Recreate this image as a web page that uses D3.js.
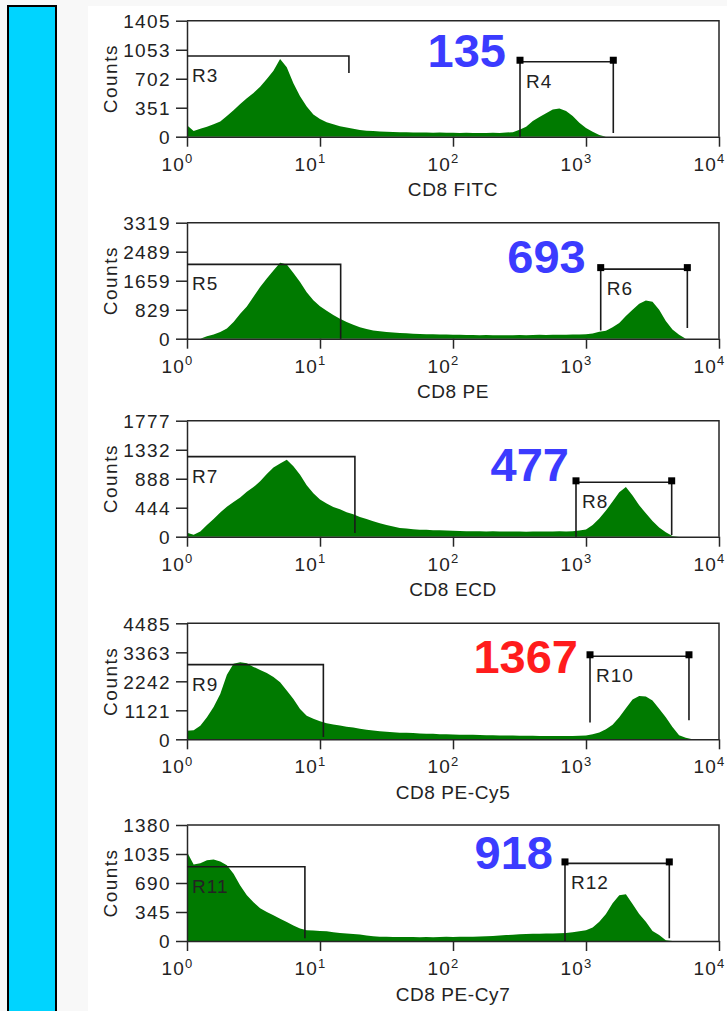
<!DOCTYPE html>
<html>
<head>
<meta charset="utf-8">
<script src="https://cdn.jsdelivr.net/npm/d3@7"></script>
<style>
  html, body { margin: 0; padding: 0; background: #f8f8f8; }
  svg { display: block; }
  text { font-family: "Liberation Sans", Arial, sans-serif; fill: #222; }
</style>
</head>
<body>
<svg id="chart" width="727" height="1011"></svg>
<script>
// ---- Data ---------------------------------------------------------------
const channels = ["CD8 FITC", "CD8 PE", "CD8 ECD", "CD8 PE-Cy5", "CD8 PE-Cy7"];
const countMax = [1405, 3319, 1777, 4485, 1380];
const countTickLabels = [
  [0, 351, 702, 1053, 1405],
  [0, 829, 1659, 2489, 3319],
  [0, 444, 888, 1332, 1777],
  [0, 1121, 2242, 3363, 4485],
  [0, 345, 690, 1035, 1380]
];
const decadeTicks = [1, 10, 100, 1000, 10000];

// histogram bins, 1/20 decade apart starting at 10^0
const binDecades = d3.range(0, 81).map(i => i / 20);

const fitcCounts = [140, 70, 95, 120, 150, 185, 250, 320, 395, 465, 530, 605, 700, 800, 940, 840,
  646, 490, 365, 270, 215, 175, 150, 128, 112, 95, 80, 72, 68, 62, 60, 58, 55, 55, 52, 50, 50, 48,
  50, 47, 48, 45, 47, 44, 46, 45, 48, 46, 50, 55, 85, 121, 190, 240, 285, 330, 343, 310, 250, 170,
  105, 60, 20, 0];
const peCounts = [0, 0, 0, 70, 120, 190, 290, 480, 717, 920, 1200, 1480, 1720, 1950, 2170, 2120,
  1880, 1624, 1330, 1100, 930, 800, 680, 570, 480, 400, 330, 280, 238, 210, 195, 180, 165, 155, 145,
  135, 130, 125, 120, 118, 112, 110, 108, 105, 100, 105, 100, 98, 102, 100, 105, 100, 108, 110, 105,
  110, 115, 112, 118, 120, 130, 150, 200, 230, 330, 450, 650, 830, 1000, 1090, 1060, 830, 510, 260,
  110, 0];
const ecdCounts = [60, 30, 80, 180, 270, 370, 460, 530, 600, 690, 760, 850, 960, 1060, 1120, 1180,
  1080, 950, 790, 664, 570, 510, 455, 420, 375, 345, 300, 270, 235, 205, 180, 155, 135, 125, 115,
  108, 105, 100, 100, 95, 92, 88, 85, 82, 85, 80, 82, 78, 80, 78, 80, 76, 78, 80, 78, 80, 82, 80, 82,
  95, 110, 180, 280, 400, 540, 680, 760, 630, 480, 360, 240, 140, 70, 10, 0];
const cy5Counts = [330, 350, 520, 850, 1250, 1750, 2500, 2925, 2980, 2940, 2800, 2680, 2560, 2404,
  2207, 1885, 1560, 1170, 910, 790, 700, 620, 570, 530, 490, 455, 410, 370, 340, 310, 290, 270, 257,
  250, 240, 225, 215, 210, 200, 195, 190, 180, 175, 172, 165, 160, 155, 150, 148, 150, 140, 135, 138,
  130, 132, 128, 130, 128, 130, 135, 150, 200, 260, 390, 560, 850, 1200, 1540, 1670, 1650, 1500,
  1180, 850, 480, 160, 60, 0];
const cy7Counts = [1060, 910, 925, 960, 970, 945, 900, 800, 660, 545, 460, 390, 346, 305, 265, 227,
  185, 150, 128, 125, 120, 115, 105, 95, 90, 82, 78, 65, 56, 52, 50, 48, 48, 48, 47, 46, 48, 46, 47,
  50, 48, 50, 52, 50, 55, 58, 60, 65, 70, 75, 80, 82, 85, 85, 88, 90, 92, 95, 105, 115, 128, 160,
  230, 320, 450, 545, 555, 440, 320, 230, 120, 70, 10, 0];
const histograms = [fitcCounts, peCounts, ecdCounts, cy5Counts, cy7Counts];

// gates: a low-intensity region (from 10^0) and a bright region
const lowGateNames = ["R3", "R5", "R7", "R9", "R11"];
const lowGateEnd = [16.5, 14.3, 18.3, 10.6, 7.7];
const lowGateLevel = [977, 2126, 1226, 2886, 883];
const lowGateFoot = [771, 0, 57, 90, 32];

const brightGateNames = ["R4", "R6", "R8", "R10", "R12"];
const brightGateStart = [319, 1290, 841, 1072, 695];
const brightGateEnd = [1604, 5780, 4408, 5946, 4230];
const brightGateLevel = [908, 1991, 833, 3210, 923];
const brightGateFootStart = [0, 238, 0, 647, 0];
const brightGateFootEnd = [45, 305, 26, 741, 32];

const brightEvents = [135, 693, 477, 1367, 918];
const flagged = [false, false, false, true, false];

// ---- Layout -------------------------------------------------------------
const W = 727, H = 1011;
const plotLeft = 187, plotRight = 719, plotHeight = 116;
const panelTop = [20.7, 222.7, 420.7, 623.3, 825];
const calloutDx = [-14, -15, -7, -12, -12];
const calloutDy = [5, 4, -1, 17, 6];

const svg = d3.select("#chart");

// page furniture
svg.append("rect").attr("x", 0).attr("y", 0).attr("width", W).attr("height", H).attr("fill", "#f8f8f8");
svg.append("rect").attr("x", 88).attr("y", 6).attr("width", W - 88).attr("height", H - 6).attr("fill", "#ffffff");
svg.append("rect").attr("x", 8).attr("y", 6).attr("width", 48).attr("height", H + 20)
  .attr("fill", "#00d4ff").attr("stroke", "#000").attr("stroke-width", 2);

const x = d3.scaleLog().domain([1, 1e4]).range([plotLeft, plotRight]);
const lineColor = "#262626";
const gateColor = "#1a1a1a";

channels.forEach((name, i) => {
  const top = panelTop[i];
  const base = top + plotHeight;
  const y = d3.scaleLinear().domain([0, countMax[i]]).range([base, top]);
  const g = svg.append("g");

  // histogram
  const area = d3.area()
    .x((c, j) => x(Math.pow(10, binDecades[j])))
    .y0(y(0))
    .y1(c => y(c));
  g.append("path").datum(histograms[i]).attr("d", area).attr("fill", "#007a00");

  // frame (top and right edges)
  g.append("path")
    .attr("d", `M${plotLeft},${top}H${plotRight}V${base}`)
    .attr("fill", "none").attr("stroke", lineColor).attr("stroke-width", 1.5);

  // count axis
  const yAxis = g.append("g").attr("transform", `translate(${plotLeft},0)`)
    .call(d3.axisLeft(y).tickValues(countTickLabels[i]).tickSize(11).tickSizeOuter(0)
      .tickPadding(5).tickFormat(d3.format("d")));
  yAxis.attr("font-family", null).attr("font-size", null);
  yAxis.select(".domain").attr("stroke", lineColor).attr("stroke-width", 1.5);
  yAxis.selectAll(".tick line").attr("stroke", lineColor).attr("stroke-width", 1.5);
  yAxis.selectAll(".tick text").attr("font-size", 19).attr("letter-spacing", 1.4)
    .attr("fill", "#222").attr("dy", "0.36em");

  // intensity axis (log decades)
  const xAxis = g.append("g").attr("transform", `translate(0,${base})`)
    .call(d3.axisBottom(x).tickValues(decadeTicks).tickSize(10).tickSizeOuter(0));
  xAxis.attr("font-family", null).attr("font-size", null);
  xAxis.select(".domain").attr("stroke", lineColor).attr("stroke-width", 1.5);
  xAxis.selectAll(".tick line").attr("stroke", lineColor).attr("stroke-width", 1.5);
  xAxis.selectAll(".tick text").each(function (d) {
    const t = d3.select(this);
    t.text(null).attr("text-anchor", "start").attr("x", -26).attr("y", 34).attr("dy", null)
      .attr("font-size", 19).attr("letter-spacing", 1.2).attr("fill", "#222");
    t.append("tspan").text("10");
    t.append("tspan").attr("dy", -7.5).attr("font-size", 13).text(Math.round(Math.log10(d)));
  });

  // axis titles
  g.append("text").attr("x", (plotLeft + plotRight) / 2).attr("y", base + 59.5)
    .attr("text-anchor", "middle").attr("font-size", 19).attr("letter-spacing", 0.6).text(name);
  g.append("text")
    .attr("transform", `translate(116.5,${(top + base) / 2}) rotate(-90)`)
    .attr("text-anchor", "middle").attr("font-size", 19).attr("letter-spacing", 1.5).text("Counts");

  // low gate
  const lx0 = x(1), lx1 = x(lowGateEnd[i]), ly = y(lowGateLevel[i]);
  g.append("path")
    .attr("d", `M${lx0},${ly}H${lx1}V${y(lowGateFoot[i])}`)
    .attr("fill", "none").attr("stroke", gateColor).attr("stroke-width", 1.6);
  g.append("text").attr("x", lx0 + 5).attr("y", ly + 26).attr("font-size", 19)
    .attr("letter-spacing", 1).text(lowGateNames[i]);

  // bright gate
  const bx0 = x(brightGateStart[i]), bx1 = x(brightGateEnd[i]), by = y(brightGateLevel[i]);
  g.append("path")
    .attr("d", `M${bx0},${y(brightGateFootStart[i])}V${by}H${bx1}V${y(brightGateFootEnd[i])}`)
    .attr("fill", "none").attr("stroke", gateColor).attr("stroke-width", 1.6);
  [bx0, bx1].forEach(px => {
    g.append("rect").attr("x", px - 3.5).attr("y", by - 5).attr("width", 7).attr("height", 7)
      .attr("fill", "#000");
  });
  g.append("text").attr("x", bx0 + 6).attr("y", by + 26).attr("font-size", 19)
    .attr("letter-spacing", 1).text(brightGateNames[i]);

  // event count in the bright gate
  g.append("text")
    .attr("x", bx0 + calloutDx[i]).attr("y", by + calloutDy[i])
    .attr("text-anchor", "end").attr("font-size", 47).attr("font-weight", "bold")
    .style("fill", flagged[i] ? "#ff1c1c" : "#3b3bff")
    .text(brightEvents[i]);
});
</script>
</body>
</html>
